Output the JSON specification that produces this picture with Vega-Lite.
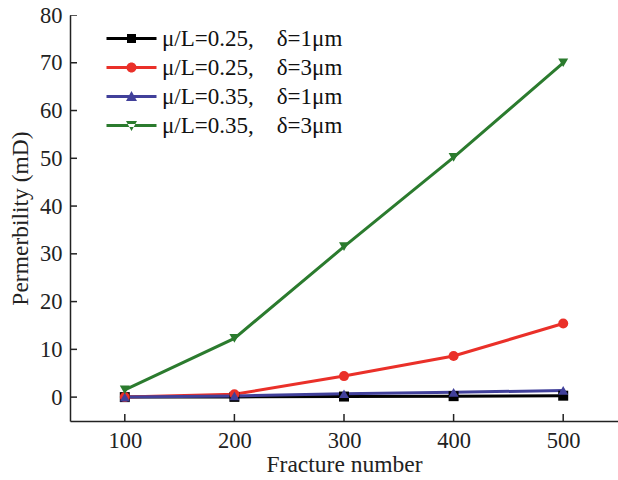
{
  "$schema": "https://vega.github.io/schema/vega-lite/v6.json",
  "width": 548,
  "height": 406,
  "padding": {"left": 70, "top": 15, "right": 0, "bottom": 59},
  "autosize": {"type": "none"},
  "config": {
    "view": {"stroke": null},
    "font": "Liberation Serif",
    "axis": {"grid": false, "ticks": false, "domainColor": "#222", "domainWidth": 1.5, "labelColor": "#222", "titleColor": "#222", "labelFont": "Liberation Serif", "titleFont": "Liberation Serif", "labelFontSize": 22.5, "titleFontSize": 23.5, "titleFontWeight": "normal"}
  },
  "datasets": {
    "d": [
      {"series": "μ/L=0.25,\u00a0\u00a0\u00a0\u00a0δ=1μm", "x": 100, "y": 0.0},
      {"series": "μ/L=0.25,\u00a0\u00a0\u00a0\u00a0δ=1μm", "x": 200, "y": 0.05},
      {"series": "μ/L=0.25,\u00a0\u00a0\u00a0\u00a0δ=1μm", "x": 300, "y": 0.12},
      {"series": "μ/L=0.25,\u00a0\u00a0\u00a0\u00a0δ=1μm", "x": 400, "y": 0.2},
      {"series": "μ/L=0.25,\u00a0\u00a0\u00a0\u00a0δ=1μm", "x": 500, "y": 0.3},
      {"series": "μ/L=0.25,\u00a0\u00a0\u00a0\u00a0δ=3μm", "x": 100, "y": 0.0},
      {"series": "μ/L=0.25,\u00a0\u00a0\u00a0\u00a0δ=3μm", "x": 200, "y": 0.6},
      {"series": "μ/L=0.25,\u00a0\u00a0\u00a0\u00a0δ=3μm", "x": 300, "y": 4.4},
      {"series": "μ/L=0.25,\u00a0\u00a0\u00a0\u00a0δ=3μm", "x": 400, "y": 8.6},
      {"series": "μ/L=0.25,\u00a0\u00a0\u00a0\u00a0δ=3μm", "x": 500, "y": 15.4},
      {"series": "μ/L=0.35,\u00a0\u00a0\u00a0\u00a0δ=1μm", "x": 100, "y": 0.0},
      {"series": "μ/L=0.35,\u00a0\u00a0\u00a0\u00a0δ=1μm", "x": 200, "y": 0.25},
      {"series": "μ/L=0.35,\u00a0\u00a0\u00a0\u00a0δ=1μm", "x": 300, "y": 0.7},
      {"series": "μ/L=0.35,\u00a0\u00a0\u00a0\u00a0δ=1μm", "x": 400, "y": 1.0},
      {"series": "μ/L=0.35,\u00a0\u00a0\u00a0\u00a0δ=1μm", "x": 500, "y": 1.4},
      {"series": "μ/L=0.35,\u00a0\u00a0\u00a0\u00a0δ=3μm", "x": 100, "y": 1.5},
      {"series": "μ/L=0.35,\u00a0\u00a0\u00a0\u00a0δ=3μm", "x": 200, "y": 12.3},
      {"series": "μ/L=0.35,\u00a0\u00a0\u00a0\u00a0δ=3μm", "x": 300, "y": 31.5},
      {"series": "μ/L=0.35,\u00a0\u00a0\u00a0\u00a0δ=3μm", "x": 400, "y": 50.2},
      {"series": "μ/L=0.35,\u00a0\u00a0\u00a0\u00a0δ=3μm", "x": 500, "y": 70.0}
    ],
    "xticks": [
      {"x": 100, "y": -5}, {"x": 200, "y": -5}, {"x": 300, "y": -5}, {"x": 400, "y": -5}, {"x": 500, "y": -5}
    ],
    "yticks": [
      {"x": 50, "y": 0}, {"x": 50, "y": 10}, {"x": 50, "y": 20}, {"x": 50, "y": 30}, {"x": 50, "y": 40},
      {"x": 50, "y": 50}, {"x": 50, "y": 60}, {"x": 50, "y": 70}, {"x": 50, "y": 80}
    ]
  },
  "encoding": {
    "x": {"field": "x", "type": "quantitative", "scale": {"domain": [50, 550], "nice": false, "zero": false}, "axis": {"values": [100, 200, 300, 400, 500], "title": "Fracture number", "labelPadding": 8, "titlePadding": 1}},
    "y": {"field": "y", "type": "quantitative", "scale": {"domain": [-5, 80], "nice": false, "zero": false}, "axis": {"values": [0, 10, 20, 30, 40, 50, 60, 70, 80], "title": "Permerbility (mD)", "labelPadding": 8, "titlePadding": 7}}
  },
  "layer": [
    {
      "data": {"name": "xticks"},
      "mark": {"type": "tick", "orient": "vertical", "size": 14, "thickness": 1.5, "color": "#222", "clip": true, "opacity": 1}
    },
    {
      "data": {"name": "yticks"},
      "mark": {"type": "tick", "orient": "horizontal", "size": 14, "thickness": 1.5, "color": "#222", "clip": true, "opacity": 1}
    },
    {
      "data": {"name": "d"},
      "mark": {"type": "line", "strokeWidth": 3},
      "encoding": {
        "color": {"field": "series", "type": "nominal", "scale": {"domain": ["μ/L=0.25,\u00a0\u00a0\u00a0\u00a0δ=1μm", "μ/L=0.25,\u00a0\u00a0\u00a0\u00a0δ=3μm", "μ/L=0.35,\u00a0\u00a0\u00a0\u00a0δ=1μm", "μ/L=0.35,\u00a0\u00a0\u00a0\u00a0δ=3μm"], "range": ["#000000", "#ea3029", "#41409a", "#2b7b2e"]}, "legend": null}
      }
    },
    {
      "data": {"name": "d"},
      "mark": {"type": "point", "filled": true, "opacity": 1, "size": 100},
      "encoding": {
        "color": {"field": "series", "type": "nominal", "scale": {"domain": ["μ/L=0.25,\u00a0\u00a0\u00a0\u00a0δ=1μm", "μ/L=0.25,\u00a0\u00a0\u00a0\u00a0δ=3μm", "μ/L=0.35,\u00a0\u00a0\u00a0\u00a0δ=1μm", "μ/L=0.35,\u00a0\u00a0\u00a0\u00a0δ=3μm"], "range": ["#000000", "#ea3029", "#41409a", "#2b7b2e"]}, "legend": null},
        "shape": {"field": "series", "type": "nominal", "scale": {"domain": ["μ/L=0.25,\u00a0\u00a0\u00a0\u00a0δ=1μm", "μ/L=0.25,\u00a0\u00a0\u00a0\u00a0δ=3μm", "μ/L=0.35,\u00a0\u00a0\u00a0\u00a0δ=1μm", "μ/L=0.35,\u00a0\u00a0\u00a0\u00a0δ=3μm"], "range": ["square", "circle", "triangle-up", "triangle-down"]}, "legend": null}
      }
    },
    {
      "data": {"name": "d"},
      "transform": [{"filter": "datum.x > 100000"}],
      "mark": {"type": "point", "filled": true, "opacity": 1, "size": 400},
      "encoding": {
        "color": {"field": "series", "type": "nominal", "scale": {"domain": ["μ/L=0.25,\u00a0\u00a0\u00a0\u00a0δ=1μm", "μ/L=0.25,\u00a0\u00a0\u00a0\u00a0δ=3μm", "μ/L=0.35,\u00a0\u00a0\u00a0\u00a0δ=1μm", "μ/L=0.35,\u00a0\u00a0\u00a0\u00a0δ=3μm"], "range": ["#000000", "#ea3029", "#41409a", "#2b7b2e"]},
          "legend": {"orient": "none", "legendX": 50, "legendY": 12, "title": null, "symbolSize": 400, "labelFont": "Liberation Serif", "labelFontSize": 23, "labelColor": "#111", "labelOffset": 19, "labelLimit": 400, "rowPadding": 5, "symbolStrokeWidth": 0}},
        "shape": {"field": "series", "type": "nominal", "scale": {"domain": ["μ/L=0.25,\u00a0\u00a0\u00a0\u00a0δ=1μm", "μ/L=0.25,\u00a0\u00a0\u00a0\u00a0δ=3μm", "μ/L=0.35,\u00a0\u00a0\u00a0\u00a0δ=1μm", "μ/L=0.35,\u00a0\u00a0\u00a0\u00a0δ=3μm"], "range": [
          "M-2.5,-0.15H2.5V0.15H-2.5Z M-0.45,-0.45H0.45V0.45H-0.45Z",
          "M-2.5,-0.15H2.5V0.15H-2.5Z M0.5,0A0.5,0.5 0 1,1 -0.5,0A0.5,0.5 0 1,1 0.5,0Z",
          "M-2.5,-0.15H2.5V0.15H-2.5Z M0,-0.55L0.55,0.45H-0.55Z",
          "M-2.5,-0.15H2.5V0.15H-2.5Z M0,0.55L0.55,-0.45H-0.55Z"
        ]},
          "legend": {"orient": "none", "legendX": 50, "legendY": 12, "title": null, "symbolSize": 400, "labelFont": "Liberation Serif", "labelFontSize": 23, "labelColor": "#111", "labelOffset": 19, "labelLimit": 400, "rowPadding": 5, "symbolStrokeWidth": 0}}
      }
    }
  ],
  "resolve": {"scale": {"color": "independent", "shape": "independent"}}
}
